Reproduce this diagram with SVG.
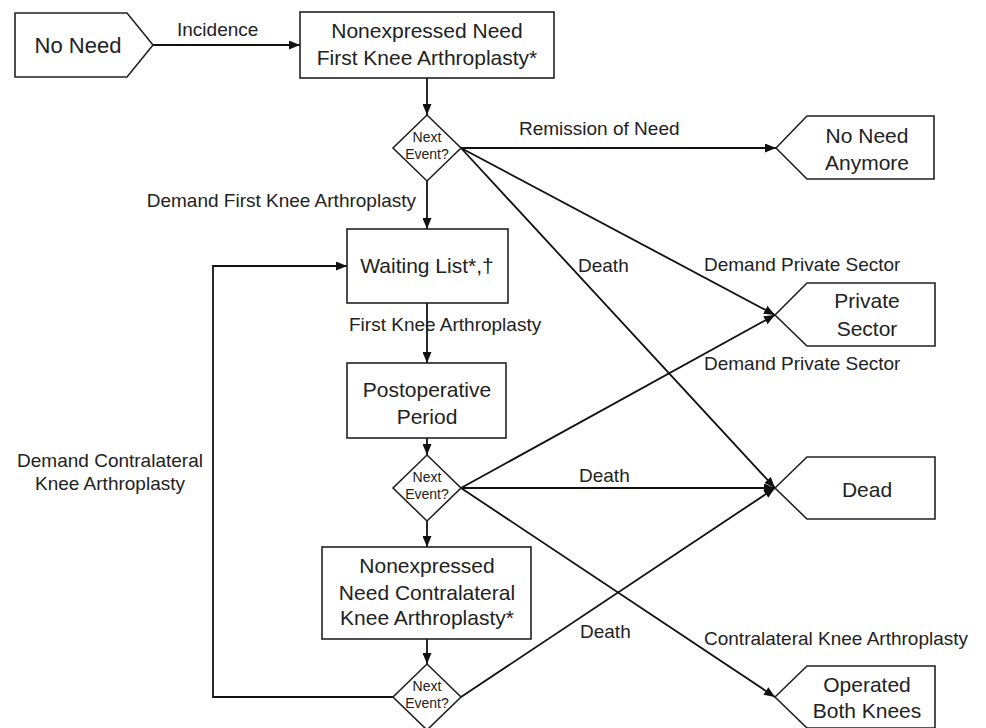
<svg xmlns="http://www.w3.org/2000/svg" width="986" height="728" viewBox="0 0 986 728">
<defs>
<marker id="arr" markerUnits="userSpaceOnUse" markerWidth="11" markerHeight="9" refX="11" refY="4.5" orient="auto">
<path d="M0,0 L11,4.5 L0,9 z" fill="#111"/>
</marker>
<style>
.shape{fill:#fff;stroke:#222;stroke-width:1.6}
.edge{fill:none;stroke:#111;stroke-width:1.8}
.bt{font-family:"Liberation Sans",Arial,sans-serif;font-size:21px;fill:#222;text-anchor:middle}
.big{font-family:"Liberation Sans",Arial,sans-serif;font-size:22px;fill:#222;text-anchor:middle}
.lb{font-family:"Liberation Sans",Arial,sans-serif;font-size:19px;fill:#222}
.dt{font-family:"Liberation Sans",Arial,sans-serif;font-size:14px;fill:#222;text-anchor:middle}
</style>
</defs>
<rect width="986" height="728" fill="#fff"/>

<g id="connectors">
<line class="edge" x1="153" y1="45" x2="300" y2="45" marker-end="url(#arr)"/>
<line class="edge" x1="427" y1="78" x2="427" y2="115" marker-end="url(#arr)"/>
<line class="edge" x1="461" y1="148" x2="776" y2="148" marker-end="url(#arr)"/>
<line class="edge" x1="461" y1="148" x2="775" y2="315" marker-end="url(#arr)"/>
<line class="edge" x1="461" y1="148" x2="775" y2="488" marker-end="url(#arr)"/>
<line class="edge" x1="427" y1="181" x2="427" y2="229" marker-end="url(#arr)"/>
<line class="edge" x1="427" y1="303" x2="427" y2="363" marker-end="url(#arr)"/>
<line class="edge" x1="427" y1="438" x2="427" y2="455" marker-end="url(#arr)"/>
<line class="edge" x1="461" y1="488" x2="775" y2="315" marker-end="url(#arr)"/>
<line class="edge" x1="461" y1="488" x2="775" y2="488" marker-end="url(#arr)"/>
<line class="edge" x1="461" y1="488" x2="775" y2="697" marker-end="url(#arr)"/>
<line class="edge" x1="427" y1="521" x2="427" y2="547" marker-end="url(#arr)"/>
<line class="edge" x1="427" y1="639" x2="427" y2="664" marker-end="url(#arr)"/>
<line class="edge" x1="461" y1="697" x2="775" y2="488" marker-end="url(#arr)"/>
<polyline class="edge" points="393,697 213,697 213,266 347,266" marker-end="url(#arr)"/>

<text class="lb" x="177" y="36">Incidence</text>
<text class="lb" x="519" y="135">Remission of Need</text>
<text class="lb" x="416" y="207" text-anchor="end">Demand First Knee Arthroplasty</text>
<text class="lb" x="578" y="272">Death</text>
<text class="lb" x="704" y="271">Demand Private Sector</text>
<text class="lb" x="349" y="331">First Knee Arthroplasty</text>
<text class="lb" x="704" y="370">Demand Private Sector</text>
<text class="lb" x="579" y="482">Death</text>
<text class="lb" x="110" y="467" text-anchor="middle">Demand Contralateral</text>
<text class="lb" x="110" y="490" text-anchor="middle">Knee Arthroplasty</text>
<text class="lb" x="580" y="638">Death</text>
<text class="lb" x="704" y="645">Contralateral Knee Arthroplasty</text>
</g>

<g id="no-need">
<polygon class="shape" points="15,13 127,13 153,45 127,77 15,77"/>
<text class="big" x="78" y="53">No Need</text>
</g>

<g id="nonexpressed-first">
<rect class="shape" x="300" y="12" width="254" height="66"/>
<text class="bt" x="427" y="38">Nonexpressed Need</text>
<text class="bt" x="427" y="65">First Knee Arthroplasty*</text>
</g>

<g id="decision-1">
<polygon class="shape" points="427,115 461,148 427,181 393,148"/>
<text class="dt" x="427" y="142">Next</text>
<text class="dt" x="427" y="159">Event?</text>
</g>

<g id="waiting-list">
<rect class="shape" x="347" y="229" width="161" height="74"/>
<text class="bt" x="427" y="273">Waiting List*,†</text>
</g>

<g id="postoperative">
<rect class="shape" x="347" y="363" width="159" height="75"/>
<text class="bt" x="427" y="397">Postoperative</text>
<text class="bt" x="427" y="424">Period</text>
</g>

<g id="decision-2">
<polygon class="shape" points="427,455 461,488 427,521 393,488"/>
<text class="dt" x="427" y="482">Next</text>
<text class="dt" x="427" y="499">Event?</text>
</g>

<g id="nonexpressed-contralateral">
<rect class="shape" x="322" y="547" width="209" height="92"/>
<text class="bt" x="427" y="573">Nonexpressed</text>
<text class="bt" x="427" y="600">Need Contralateral</text>
<text class="bt" x="427" y="625">Knee Arthroplasty*</text>
</g>

<g id="decision-3">
<polygon class="shape" points="427,664 461,697 427,730 393,697"/>
<text class="dt" x="427" y="691">Next</text>
<text class="dt" x="427" y="708">Event?</text>
</g>

<g id="no-need-anymore">
<polygon class="shape" points="776,148 807,116 934,116 934,179 807,179"/>
<text class="bt" x="867" y="143">No Need</text>
<text class="bt" x="867" y="170">Anymore</text>
</g>

<g id="private-sector">
<polygon class="shape" points="775,315 807,283 935,283 935,346 807,346"/>
<text class="bt" x="867" y="308">Private</text>
<text class="bt" x="867" y="336">Sector</text>
</g>

<g id="dead">
<polygon class="shape" points="775,488 807,457 935,457 935,519 807,519"/>
<text class="bt" x="867" y="497">Dead</text>
</g>

<g id="operated-both">
<polygon class="shape" points="775,697 807,666 935,666 935,728 807,728"/>
<text class="bt" x="867" y="692">Operated</text>
<text class="bt" x="867" y="718">Both Knees</text>
</g>
</svg>
